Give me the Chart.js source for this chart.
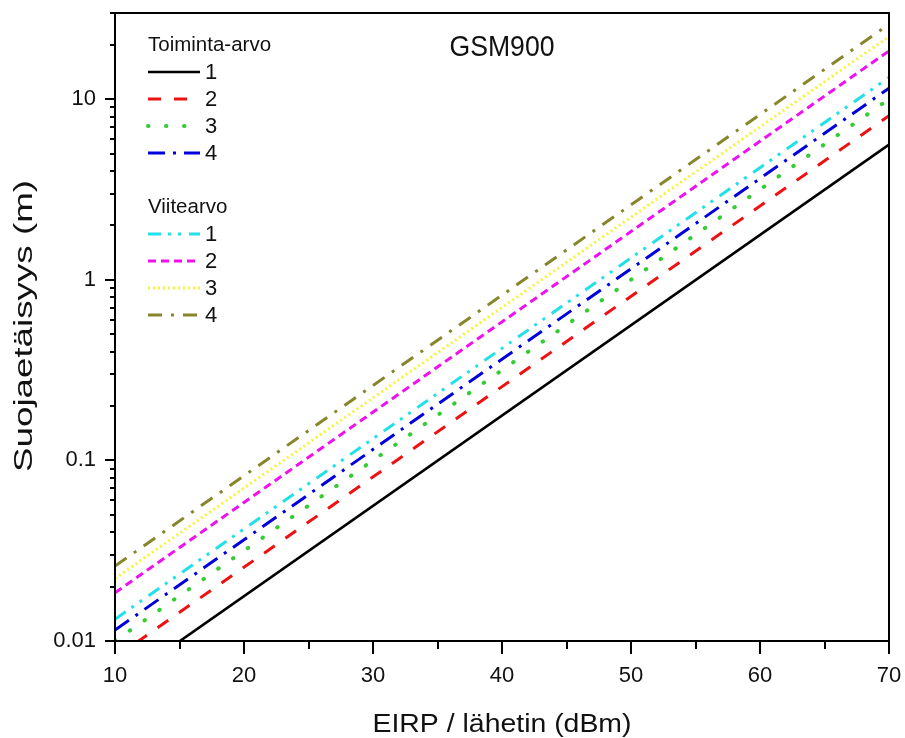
<!DOCTYPE html>
<html>
<head>
<meta charset="utf-8">
<script src="https://cdn.jsdelivr.net/npm/chart.js@4/dist/chart.umd.min.js"></script>
<style>
  html, body { margin: 0; padding: 0; background: #fff; }
  #wrap { width: 905px; height: 738px; }
</style>
</head>
<body>
<div id="wrap"><canvas id="chart" width="905" height="738"></canvas></div>
<script>
// DATA (distance in m at 10 and 70 dBm)
const xValues = [10, 70];
const toiminta1 = [0.0056, 5.6];
const toiminta2 = [0.0081, 8.1];
const toiminta3 = [0.0100, 10.0];
const toiminta4 = [0.0115, 11.5];
const viite1 = [0.0132, 13.2];
const viite2 = [0.0185, 18.5];
const viite3 = [0.0222, 22.2];
const viite4 = [0.0260, 26.0];

const xTicks = [10, 20, 30, 40, 50, 60, 70];
const yTicks = [0.01, 0.1, 1, 10];
const yTickLabels = ["0.01", "0.1", "1", "10"];

const FONT = "'Liberation Sans', Arial, sans-serif";

const pts = arr => arr.map((v, i) => ({ x: xValues[i], y: v }));

function series(label, values, color, dash, width, cap) {
  return {
    label: label,
    data: pts(values),
    borderColor: color,
    borderWidth: width,
    borderDash: dash,
    borderCapStyle: cap || 'butt',
    pointRadius: 0,
    fill: false
  };
}

const datasets = [
  series('1', toiminta1, '#000000', [], 2.6),
  series('2', toiminta2, '#ee1111', [13, 13], 3),
  series('3', toiminta3, '#33cc33', [0.5, 17.5], 4, 'round'),
  series('4', toiminta4, '#0000dd', [17, 8, 3, 8], 3),
  series('1', viite1, '#22e0e8', [13, 7, 3, 7, 3, 8], 3),
  series('2', viite2, '#ee11ee', [8, 5], 3),
  series('3', viite3, '#f4f43a', [2, 3], 3),
  series('4', viite4, '#86862a', [14, 9, 3, 9], 3)
];

// text squeezed/stretched along its run to the width seen in the picture
function fitText(ctx, text, x, y, size, width, rotate) {
  ctx.save();
  ctx.font = size + 'px ' + FONT;
  ctx.fillStyle = '#111';
  ctx.textAlign = 'center';
  ctx.textBaseline = 'alphabetic';
  const sx = width / ctx.measureText(text).width;
  ctx.translate(x, y);
  if (rotate) ctx.rotate(-Math.PI / 2);
  ctx.scale(sx, 1);
  ctx.fillText(text, 0, 0);
  ctx.restore();
}

// frame, ticks, titles and legend drawn on top
const decorations = {
  id: 'decorations',
  afterDraw(chart) {
    const { ctx, chartArea: a, scales: { x, y } } = chart;
    ctx.save();
    ctx.strokeStyle = '#000';
    ctx.lineWidth = 2;
    ctx.setLineDash([]);
    ctx.strokeRect(a.left, a.top, a.right - a.left, a.bottom - a.top);

    ctx.beginPath();
    for (let v = 10; v <= 70; v += 5) {
      const px = Math.round(x.getPixelForValue(v));
      const len = v % 10 === 0 ? 13 : 8;
      ctx.moveTo(px, a.bottom);
      ctx.lineTo(px, a.bottom + len);
    }
    yTicks.forEach(d => {
      for (let m = 1; m <= 9; m++) {
        const v = d * m;
        if (v > y.max * 1.0001) break;
        const py = Math.round(y.getPixelForValue(v));
        const len = m === 1 ? 10 : 5;
        ctx.moveTo(a.left, py);
        ctx.lineTo(a.left - len, py);
      }
    });
    ctx.stroke();

    // titles
    fitText(ctx, 'GSM900', 502, 56, 30, 105, false);
    fitText(ctx, 'EIRP / lähetin (dBm)', 502, 732, 26.5, 259, false);
    fitText(ctx, 'Suojaetäisyys (m)', 32, 326, 25.5, 292, true);

    // legend
    ctx.textAlign = 'left';
    ctx.textBaseline = 'middle';
    const groups = [
      { title: 'Toiminta-arvo', y: 45, items: datasets.slice(0, 4) },
      { title: 'Viitearvo', y: 207, items: datasets.slice(4) }
    ];
    groups.forEach(g => {
      ctx.fillStyle = '#111';
      ctx.font = '20.5px ' + FONT;
      ctx.fillText(g.title, 148, g.y);
      g.items.forEach((ds, i) => {
        const ly = g.y + 27 * (i + 1);
        ctx.save();
        ctx.beginPath();
        ctx.strokeStyle = ds.borderColor;
        ctx.lineWidth = ds.borderWidth;
        ctx.lineCap = ds.borderCapStyle;
        ctx.setLineDash(ds.borderDash);
        ctx.moveTo(148, ly);
        ctx.lineTo(200, ly);
        ctx.stroke();
        ctx.restore();
        ctx.fillStyle = '#111';
        ctx.font = '22px ' + FONT;
        ctx.fillText(ds.label, 205, ly + 1);
      });
    });
    ctx.restore();
  }
};

const noPad = s => { s.paddingTop = 0; s.paddingBottom = 0; s.paddingLeft = 0; s.paddingRight = 0; };

new Chart(document.getElementById('chart'), {
  type: 'line',
  data: { datasets: datasets },
  plugins: [decorations],
  options: {
    responsive: false,
    animation: false,
    layout: { padding: { left: 0, right: 16, top: 13, bottom: 0 } },
    plugins: {
      legend: { display: false },
      tooltip: { enabled: false }
    },
    scales: {
      x: {
        type: 'linear',
        min: 10,
        max: 70,
        afterBuildTicks: s => { s.ticks = xTicks.map(v => ({ value: v })); },
        afterFit: s => { s.height = 97; noPad(s); },
        grid: { display: false, drawTicks: false },
        border: { display: false },
        ticks: { color: '#111', padding: 22, maxRotation: 0, font: { family: FONT, size: 22 } }
      },
      y: {
        type: 'logarithmic',
        min: 0.01,
        max: 30,
        afterBuildTicks: s => { s.ticks = yTicks.map(v => ({ value: v })); },
        afterFit: s => { s.width = 115; noPad(s); },
        grid: { display: false, drawTicks: false },
        border: { display: false },
        ticks: {
          color: '#111',
          padding: 19,
          font: { family: FONT, size: 22 },
          callback: (v) => {
            const i = yTicks.indexOf(v);
            return i >= 0 ? yTickLabels[i] : '';
          }
        }
      }
    }
  }
});
</script>
</body>
</html>
